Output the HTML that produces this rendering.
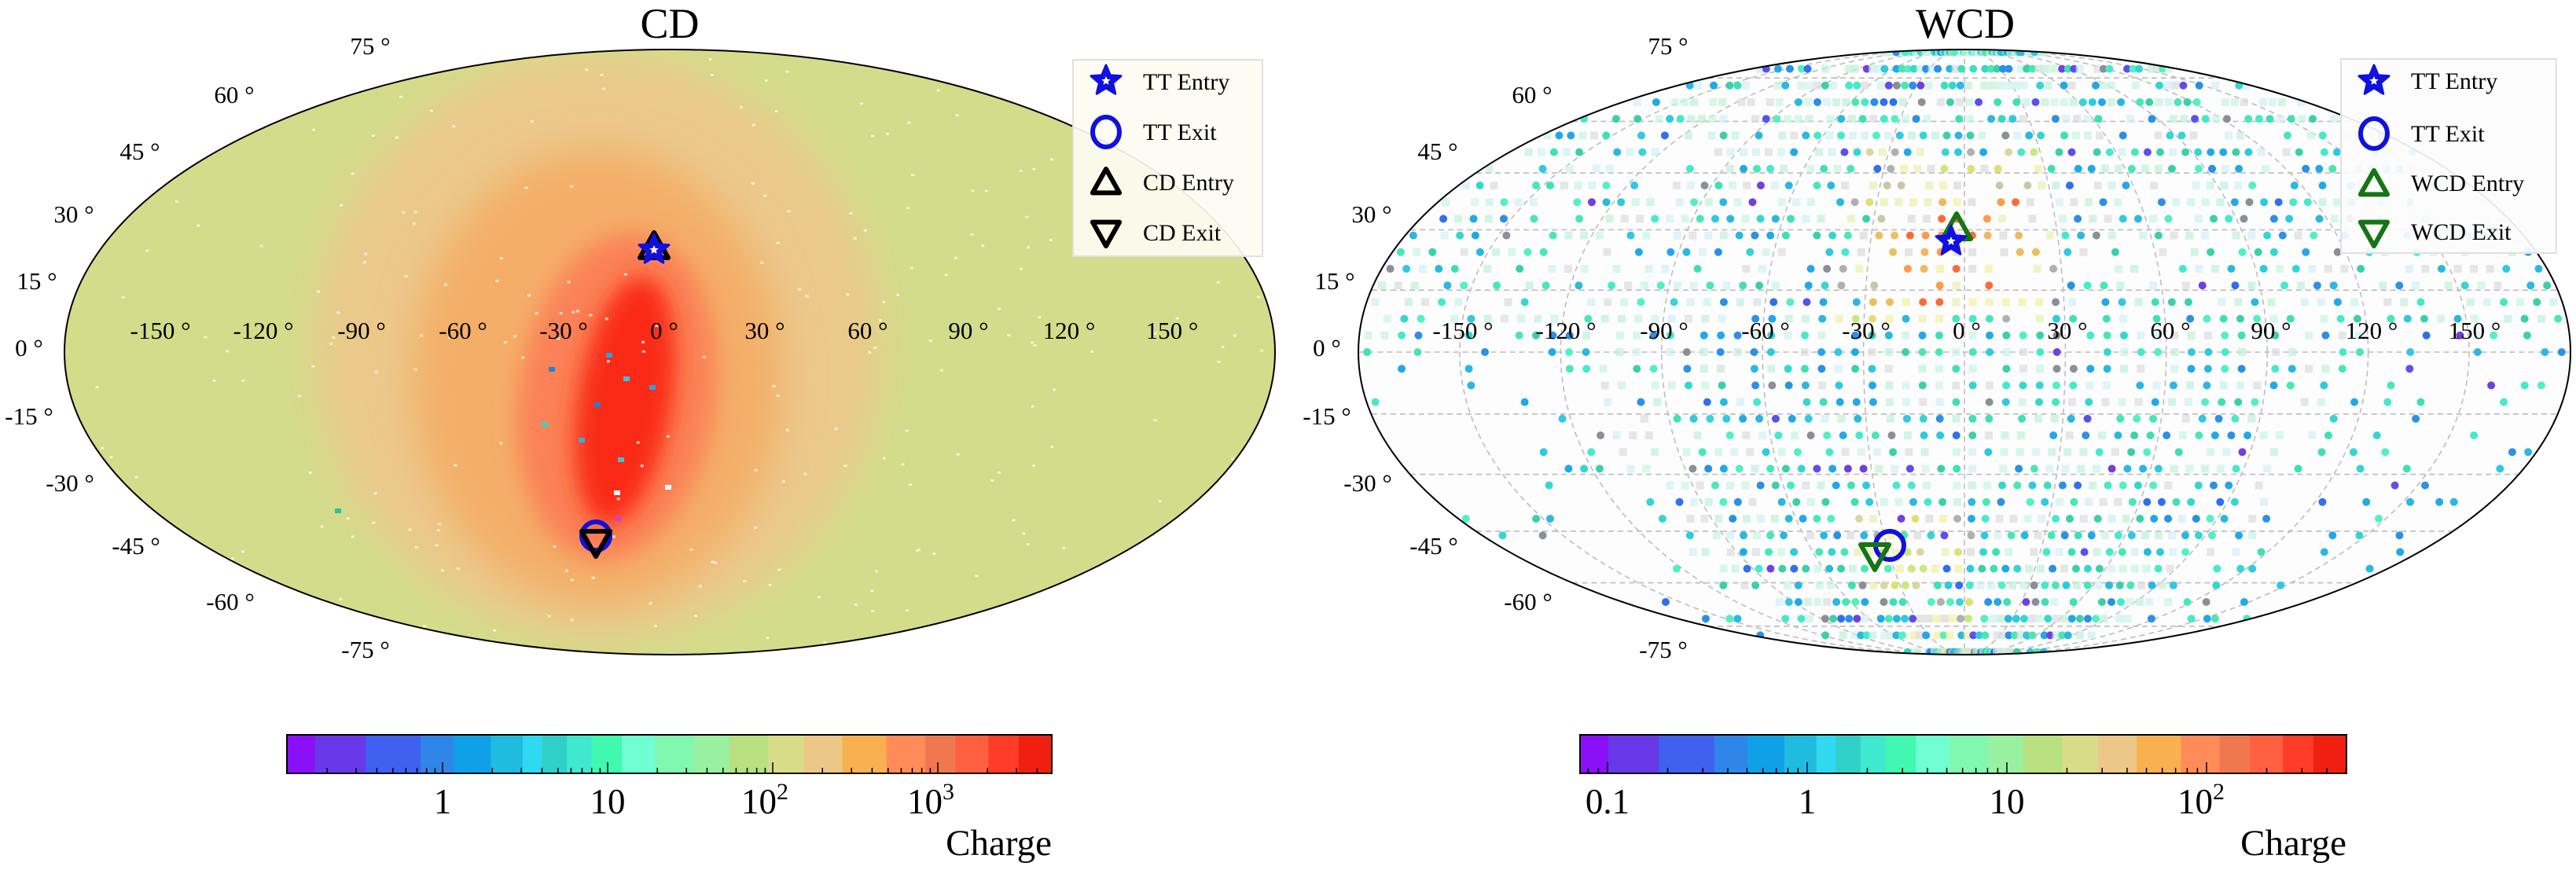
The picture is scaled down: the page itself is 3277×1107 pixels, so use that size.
<!DOCTYPE html>
<html><head><meta charset="utf-8">
<style>
html,body{margin:0;padding:0;background:#fff;}
svg{display:block;font-family:"Liberation Serif",serif;}
</style></head>
<body>
<svg id="s" xmlns="http://www.w3.org/2000/svg" width="3277" height="1107" viewBox="0 0 3277 1107">
<defs>
<clipPath id="cl"><ellipse cx="852" cy="448" rx="770" ry="385"/></clipPath>
<clipPath id="cr"><ellipse cx="2499" cy="448" rx="771" ry="385"/></clipPath>
<filter id="bl" x="-50%" y="-50%" width="200%" height="200%"><feGaussianBlur stdDeviation="14"/></filter>
<filter id="bl2" x="-50%" y="-50%" width="200%" height="200%"><feGaussianBlur stdDeviation="25"/></filter>
</defs>
<rect width="3277" height="1107" fill="#fff"/>
<!-- LEFT PANEL -->
<g clip-path="url(#cl)">
<ellipse cx="852" cy="448" rx="770" ry="385" fill="#d3dc8a"/>
<ellipse cx="760" cy="440" rx="360" ry="370" fill="#ebc98b" filter="url(#bl2)"/>
<ellipse cx="760" cy="480" rx="235" ry="290" fill="#f4ae68" filter="url(#bl2)"/>
<ellipse cx="785" cy="505" rx="125" ry="210" fill="#fb8256" filter="url(#bl)" transform="rotate(8 785 505)"/>
<ellipse cx="795" cy="510" rx="60" ry="160" fill="#fa2a18" filter="url(#bl)" transform="rotate(9 795 510)"/>
<g id="specks"></g>
</g>
<ellipse cx="852" cy="448" rx="770" ry="385" fill="none" stroke="#000" stroke-width="2"/>
<!-- RIGHT PANEL -->
<g clip-path="url(#cr)">
<ellipse cx="2499" cy="448" rx="771" ry="385" fill="#fdfdfd"/>
<g id="grid" fill="none" stroke="#bdbdbd" stroke-width="1.6" stroke-dasharray="7,5"></g>
<g id="dots"></g>
</g>
<ellipse cx="2499" cy="448" rx="771" ry="385" fill="none" stroke="#000" stroke-width="2"/>
<g id="labels" font-size="31" fill="#000"></g>
<text x="852" y="48" font-size="54" text-anchor="middle">CD</text>
<text x="2500" y="48" font-size="54" text-anchor="middle">WCD</text>

<g id="mk"></g>

<!-- legends -->
<rect x="1365" y="76" width="241" height="250" fill="#fcfcf2" fill-opacity="0.92" stroke="#e0e0e0" stroke-width="2"/>
<rect x="2978" y="75" width="274" height="247" fill="#fcfcfc" fill-opacity="0.92" stroke="#e0e0e0" stroke-width="2"/>
<g id="lg"></g>
<g font-size="30">
<text x="1454" y="114">TT Entry</text>
<text x="1454" y="178">TT Exit</text>
<text x="1454" y="242">CD Entry</text>
<text x="1454" y="306">CD Exit</text>
<text x="3067" y="113">TT Entry</text>
<text x="3067" y="180">TT Exit</text>
<text x="3067" y="243">WCD Entry</text>
<text x="3067" y="305">WCD Exit</text>
</g>
<g id="cbars"></g>
<g font-size="45" text-anchor="middle">
<text x="563" y="1035">1</text>
<text x="773" y="1035">10</text>
<text x="973" y="1035">10<tspan font-size="30" dy="-18">2</tspan></text>
<text x="1184" y="1035">10<tspan font-size="30" dy="-18">3</tspan></text>
<text x="2045" y="1035">0.1</text>
<text x="2299" y="1035">1</text>
<text x="2553" y="1035">10</text>
<text x="2800" y="1035">10<tspan font-size="30" dy="-18">2</tspan></text>
</g>
<g font-size="47" text-anchor="end">
<text x="1338" y="1088">Charge</text>
<text x="2985" y="1088">Charge</text>
</g>
</svg>
<script>
(function(){
var NS="http://www.w3.org/2000/svg";
function el(p,t,a){var e=document.createElementNS(NS,t);for(var k in a)e.setAttribute(k,a[k]);p.appendChild(e);return e;}
var seed=12345;function rnd(){seed=(seed*1103515245+12345)&0x7fffffff;return seed/0x7fffffff;}
var A=770.5,B=385;
function theta(lat){var p=lat*Math.PI/180;if(Math.abs(lat)>=90)return p;var t=p;for(var i=0;i<50;i++){var f=2*t+Math.sin(2*t)-Math.PI*Math.sin(p);t-=f/(2+2*Math.cos(2*t));}return t;}
function proj(cx,lon,lat){var t=theta(lat);return [cx+A*lon/180*Math.cos(t),448-B*Math.sin(t)];}
var L=document.getElementById('labels');
function lab(x,y,s){var t=el(L,'text',{x:x,y:y,'text-anchor':'middle'});t.textContent=s;}
var lx=[[-150,204],[-120,335],[-90,460],[-60,589],[-30,717],[0,845],[30,973],[60,1104],[90,1232],[120,1360],[150,1491]];
var lat=[[75,471,58],[60,298,120],[45,178,192],[30,94,272],[15,47,357],[0,37,442],[-15,37,529],[-30,89,614],[-45,173,694],[-60,293,765],[-75,465,826]];
[0,1647].forEach(function(off){
 lx.forEach(function(v){lab(v[1]+off+(off?10:0),431,v[0]+' °');});
 lat.forEach(function(v){lab(v[1]+off+(off?4:0),v[2]+11,v[0]+' °');});
});
var G=document.getElementById('grid');
[-75,-60,-45,-30,-15,0,15,30,45,60,75].forEach(function(la){var a=proj(2499,-180,la),b=proj(2499,180,la);el(G,'line',{x1:a[0],y1:a[1],x2:b[0],y2:b[1]});});
[30,60,90,120,150].forEach(function(lo){el(G,'ellipse',{cx:2499,cy:448,rx:A*lo/180,ry:B});});
el(G,'line',{x1:2499,y1:63,x2:2499,y2:833});
var S=document.getElementById('specks');
for(var i=0;i<260;i++){var x=90+rnd()*1520,y=70+rnd()*760;el(S,'rect',{x:x,y:y,width:4,height:3,fill:'#fff6dc','fill-opacity':0.8});}
[[830,493,'#30a0e0'],[775,452,'#30a0e0'],[797,482,'#40c0e0'],[702,470,'#2080e0'],[760,515,'#2080e0'],[693,540,'#40d0c0'],[740,560,'#30b0e0'],[790,585,'#40c0d0'],[430,650,'#30c0a0'],[785,627,'#fff'],[850,620,'#fff'],[786,660,'#d040d0']].forEach(function(d){el(S,'rect',{x:d[0]-4,y:d[1]-3,width:8,height:6,fill:d[2]});});
var D=document.getElementById('dots');
var teal=['#3ee0b4','#44eacb','#30c8e2','#22a8ea','#52f0c2','#2a90e8','#36d6d0','#48e8b0','#3cd0a8','#2ab8e0'];
var rare=['#5a50f0','#7040e0','#8a8f98','#3070f0'];
for(var k=-18;k<=18;k++){
 var y=448+k*21.2; var dy=(448-y)/B; if(Math.abs(dy)>=0.995)continue; var t=Math.asin(dy);
 var la=Math.asin((2*t+Math.sin(2*t))/Math.PI)*180/Math.PI;
 for(var lo=-177.5;lo<=177.5;lo+=5){
  var x=2499+A*lo/180*Math.cos(t); var r=rnd();
  var alo=Math.abs(lo); var ps;
  if(la>=0) ps=(alo<100)?0.45:0.3; else ps=(alo<90)?0.55:(alo<130?0.18:0.1);
  if(la>-12&&la<8&&alo<100) ps=0.55;
  var orange=(lo>-28&&lo<25&&la>12&&la<45);
  var yel=(lo>-40&&lo<30&&la>5&&la<55)||(lo>-45&&lo<5&&la<-40);
  if(r<ps){
   var c;
   if(orange){var q=rnd();c=q<0.5?'#ff9a48':(q<0.75?'#ff6a38':'#f0b860');if(Math.abs(lo)>18||la>38)c=rnd()<0.5?'#e8c060':'#c8c8a8';}
   else if(yel&&rnd()<0.5){c=['#e0e070','#c8e880','#d8d8a0','#b0b0b0'][Math.floor(rnd()*4)];}
   else c=rnd()<0.12?rare[Math.floor(rnd()*rare.length)]:teal[Math.floor(rnd()*teal.length)];
   el(D,'ellipse',{cx:x,cy:y,rx:5,ry:5,fill:c});
  } else if(r<ps+0.35 && (alo<110||la>0)){
   var pc=yel?['#f0f0a0','#e8f0b0','#d8d8d8'][Math.floor(rnd()*3)]:['#c8f4e4','#d0f0f4','#dcdcdc','#c0f0d8'][Math.floor(rnd()*4)];
   el(D,'rect',{x:x-5,y:y-5,width:10,height:10,fill:pc,'fill-opacity':0.7});
  }
 }
}
var M=document.getElementById('mk');
function star(cx,cy,R){var p=[];for(var i=0;i<10;i++){var r=i%2?R*0.45:R,a=-Math.PI/2+i*Math.PI/5;p.push((cx+r*Math.cos(a)).toFixed(1)+','+(cy+r*Math.sin(a)).toFixed(1));}return p.join(' ');}
function tri(cx,cy,R,up){var s=up?1:-1;return [cx,cy-s*R,cx-R*0.9,cy+s*R*0.6,cx+R*0.9,cy+s*R*0.6].join(',');}
function markers(sx,sy,cx,cy,tx,ty,dx,dy,col){
 el(M,'polygon',{points:tri(tx,ty,20,true),fill:'none',stroke:col,'stroke-width':6,'stroke-linejoin':'round'});
 el(M,'polygon',{points:star(sx,sy,20),fill:'#1010e0',stroke:'#1010e0','stroke-width':3,'stroke-linejoin':'round'});
 el(M,'polygon',{points:star(sx,sy,6),fill:'#fff'});
 el(M,'circle',{cx:cx,cy:cy,r:18,fill:'none',stroke:'#1010e0','stroke-width':6});
 el(M,'polygon',{points:tri(dx,dy,20,false),fill:'none',stroke:col,'stroke-width':6,'stroke-linejoin':'round'});
}
markers(832,318,758,682,832,316,758,688,'#000');
markers(2482,307,2404,694,2489,292,2385,705,'#157515');
var LG=document.getElementById('lg');
function legm(x,y0){
 el(LG,'polygon',{points:star(x,y0,20),fill:'#1010e0',stroke:'#1010e0','stroke-width':3,'stroke-linejoin':'round'});
 el(LG,'polygon',{points:star(x,y0,6),fill:'#fff'});
}
legm(1407,103);legm(3020,103);
el(LG,'ellipse',{cx:1407,cy:168,rx:17,ry:19,fill:'none',stroke:'#1010e0','stroke-width':6});
el(LG,'ellipse',{cx:3020,cy:170,rx:17,ry:19,fill:'none',stroke:'#1010e0','stroke-width':6});
el(LG,'polygon',{points:tri(1407,234,19,true),fill:'none',stroke:'#000','stroke-width':6,'stroke-linejoin':'round'});
el(LG,'polygon',{points:tri(1407,294,19,false),fill:'none',stroke:'#000','stroke-width':6,'stroke-linejoin':'round'});
el(LG,'polygon',{points:tri(3020,236,19,true),fill:'none',stroke:'#157515','stroke-width':6,'stroke-linejoin':'round'});
el(LG,'polygon',{points:tri(3020,294,19,false),fill:'none',stroke:'#157515','stroke-width':6,'stroke-linejoin':'round'});
var C=document.getElementById('cbars');
var bounds=[92,143,235,335,395,462,520,555,600,645,700,760,830,895,965,1030,1100,1180,1250,1305,1365,1420,1480];
var cols=['#8a10f8','#6838e8','#4060f0','#2f86e8','#10a0e8','#20bce0','#30d8f0','#30d0c8','#40e8d0','#40f8b0','#70ffd0','#80f8b0','#98f0a0','#b8e080','#d8dc88','#ecc888','#f8b050','#ff8c58','#f07850','#ff6040','#ff3c28','#f02010'];
function cbar(x0,x1,l0,dec,y0,h,startExp){
 var w=x1-x0;
 for(var i=0;i<cols.length;i++){var a=x0+(bounds[i]-92)/1388*w,b=x0+(bounds[i+1]-92)/1388*w;el(C,'rect',{x:a,y:y0,width:b-a+0.6,height:h,fill:cols[i]});}
 for(var e=startExp;e<5;e++)for(var m=1;m<10;m++){var xx=l0+(e+Math.log10(m))*dec;if(xx<x0||xx>x1)continue;el(C,'line',{x1:xx,y1:y0+h,x2:xx,y2:y0+h-(m==1?14:7),stroke:'#000','stroke-width':1.5});}
 el(C,'rect',{x:x0,y:y0,width:w,height:h,fill:'none',stroke:'#000','stroke-width':2});
}
cbar(365,1338,563,210,935,49,-2);
cbar(2010,2985,2299,254,935,49,-2);
})();
</script>
</body></html>
